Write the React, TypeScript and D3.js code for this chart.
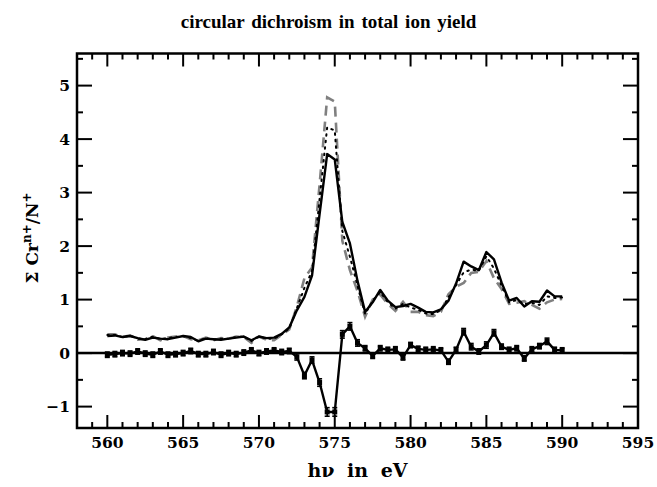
import React from "react";
import * as d3 from "d3";

const energy = [
  560, 560.5, 561, 561.5, 562, 562.5, 563, 563.5, 564, 564.5, 565, 565.5,
  566, 566.5, 567, 567.5, 568, 568.5, 569, 569.5, 570, 570.5, 571, 571.5,
  572, 572.5, 573, 573.5, 574, 574.5, 575, 575.5, 576, 576.5, 577, 577.5,
  578, 578.5, 579, 579.5, 580, 580.5, 581, 581.5, 582, 582.5, 583, 583.5,
  584, 584.5, 585, 585.5, 586, 586.5, 587, 587.5, 588, 588.5, 589, 589.5, 590,
];

const yieldSolid = [
  0.32, 0.33, 0.3, 0.32, 0.28, 0.25, 0.29, 0.27, 0.26, 0.29, 0.32, 0.3,
  0.22, 0.27, 0.26, 0.25, 0.27, 0.29, 0.31, 0.24, 0.31, 0.28, 0.29, 0.36,
  0.48, 0.8, 1.05, 1.45, 2.6, 3.72, 3.62, 2.45, 2.05, 1.35, 0.77, 0.95,
  1.18, 0.98, 0.86, 0.88, 0.92, 0.85, 0.77, 0.76, 0.82, 0.98, 1.3, 1.71,
  1.62, 1.55, 1.89, 1.75, 1.32, 0.98, 1.03, 0.87, 0.97, 0.96, 1.17, 1.06, 1.06,
];

const yieldDashed = [
  0.35, 0.35, 0.3, 0.33, 0.25, 0.26, 0.32, 0.24, 0.29, 0.31, 0.32, 0.26,
  0.24, 0.29, 0.24, 0.28, 0.27, 0.31, 0.3, 0.19, 0.31, 0.25, 0.24, 0.34,
  0.44, 0.87, 1.4, 1.6, 3.15, 4.78, 4.7, 2.1, 1.55, 1.16, 0.68, 1.0,
  1.09, 0.92, 0.79, 0.96, 0.77, 0.77, 0.71, 0.69, 0.77, 1.1, 1.24, 1.31,
  1.5, 1.52, 1.72, 1.4, 1.2, 0.92, 0.94, 0.97, 0.9, 0.83, 0.95, 1.0, 1.01,
];

const yieldDotted = [
  0.34, 0.34, 0.3, 0.33, 0.27, 0.26, 0.31, 0.26, 0.28, 0.3, 0.32, 0.28,
  0.23, 0.28, 0.25, 0.27, 0.27, 0.3, 0.31, 0.22, 0.31, 0.27, 0.27, 0.35,
  0.46, 0.84, 1.22, 1.53, 2.88, 4.22, 4.16, 2.28, 1.8, 1.26, 0.73, 0.98,
  1.14, 0.95, 0.83, 0.92, 0.85, 0.81, 0.74, 0.73, 0.8, 1.04, 1.27, 1.51,
  1.56, 1.54, 1.81, 1.58, 1.26, 0.95, 0.99, 0.92, 0.94, 0.9, 1.06, 1.03, 1.04,
];

const dichroism = [
  -0.03, -0.02, 0.0, -0.01, 0.03, -0.01, -0.03, 0.03, -0.03, -0.02, 0.0, 0.04,
  -0.02, -0.02, 0.02, -0.03, 0.0, -0.02, 0.01, 0.05, 0.0, 0.03, 0.05, 0.02,
  0.04, -0.07, -0.42, -0.13, -0.55, -1.1, -1.1, 0.35, 0.5, 0.19, 0.09, -0.05,
  0.09, 0.06, 0.07, -0.08, 0.15, 0.08, 0.06, 0.07, 0.05, -0.16, 0.06, 0.4,
  0.12, 0.03, 0.15, 0.38, 0.12, 0.06, 0.09, -0.1, 0.07, 0.13, 0.22, 0.06, 0.05,
];

const dichroismErr = [
  0.05, 0.05, 0.05, 0.05, 0.05, 0.05, 0.05, 0.05, 0.05, 0.05, 0.05, 0.05,
  0.05, 0.05, 0.05, 0.05, 0.05, 0.05, 0.05, 0.05, 0.05, 0.05, 0.05, 0.05,
  0.05, 0.06, 0.06, 0.06, 0.07, 0.08, 0.08, 0.07, 0.07, 0.06, 0.05, 0.05,
  0.05, 0.05, 0.05, 0.05, 0.05, 0.05, 0.05, 0.05, 0.05, 0.05, 0.05, 0.06,
  0.06, 0.05, 0.06, 0.06, 0.05, 0.05, 0.05, 0.05, 0.05, 0.05, 0.06, 0.05, 0.05,
];

const xMajorTicks = [560, 565, 570, 575, 580, 585, 590, 595];
const yMajorTicks = [-1, 0, 1, 2, 3, 4, 5];
const xDomain = [558, 595];
const yDomain = [-1.4, 5.6];

const W = 657;
const H = 487;
const FONT = "'DejaVu Serif', serif";
const TITLE_FONT = "'Liberation Serif', 'DejaVu Serif', serif";

export default function App() {
  const x = d3.scaleLinear().domain(xDomain).range([77, 638]);
  const y = d3.scaleLinear().domain(yDomain).range([428, 53.5]);

  const line = d3
    .line<[number, number]>()
    .x((d) => x(d[0]))
    .y((d) => y(d[1]));

  const pts = (vals: number[]) => energy.map((e, i) => [e, vals[i]] as [number, number]);

  const xMinor = d3.range(xDomain[0], xDomain[1] + 0.001, 1);
  const yMinor = d3.range(-1, 5.6, 0.5);
  const majLen = 13;
  const minLen = 6;

  const [x0, x1] = x.range();
  const [y0, y1] = y.range();

  return (
    <svg
      width={W}
      height={H}
      style={{ position: "absolute", left: 0, top: 0, background: "#fff" }}
    >
      <rect x={0} y={0} width={W} height={H} fill="#fff" />
      <text
        x={328.5}
        y={28}
        textAnchor="middle"
        fontFamily={TITLE_FONT}
        fontWeight="bold"
        fontSize={19}
        wordSpacing={2}
      >
        circular dichroism in total ion yield
      </text>

      <g stroke="#000" strokeWidth={2}>
        {xMinor.map((v) => {
          const major = xMajorTicks.includes(Math.round(v)) && Math.abs(v - Math.round(v)) < 1e-6;
          const len = major ? majLen : minLen;
          return (
            <g key={"xt" + v}>
              <line x1={x(v)} x2={x(v)} y1={y0} y2={y0 - len} />
              <line x1={x(v)} x2={x(v)} y1={y1} y2={y1 + len} />
            </g>
          );
        })}
        {yMinor.map((v) => {
          const major = Math.abs(v - Math.round(v)) < 1e-6;
          const len = major ? majLen + 2 : minLen;
          return (
            <g key={"yt" + v}>
              <line x1={x0} x2={x0 + len} y1={y(v)} y2={y(v)} />
              <line x1={x1} x2={x1 - len} y1={y(v)} y2={y(v)} />
            </g>
          );
        })}
      </g>

      <line x1={x0} x2={x1} y1={y(0)} y2={y(0)} stroke="#000" strokeWidth={2.5} />

      <path d={line(pts(yieldDashed)) || ""} fill="none" stroke="#808080" strokeWidth={2.6} strokeDasharray="10,6" />
      <path d={line(pts(yieldDotted)) || ""} fill="none" stroke="#000" strokeWidth={2} strokeDasharray="1.5,5" strokeLinecap="round" />
      <path d={line(pts(yieldSolid)) || ""} fill="none" stroke="#000" strokeWidth={2.4} strokeLinejoin="round" />

      <path d={line(pts(dichroism)) || ""} fill="none" stroke="#000" strokeWidth={2.4} strokeLinejoin="round" />
      <g stroke="#000" strokeWidth={1.6}>
        {energy.map((e, i) => {
          const cx = x(e);
          const hi = y(dichroism[i] + dichroismErr[i]);
          const lo = y(dichroism[i] - dichroismErr[i]);
          return (
            <g key={"eb" + i}>
              <line x1={cx} x2={cx} y1={hi} y2={lo} />
              <line x1={cx - 2.5} x2={cx + 2.5} y1={hi} y2={hi} />
              <line x1={cx - 2.5} x2={cx + 2.5} y1={lo} y2={lo} />
            </g>
          );
        })}
      </g>
      <g fill="#000">
        {energy.map((e, i) => (
          <rect key={"m" + i} x={x(e) - 2.5} y={y(dichroism[i]) - 2.5} width={5} height={5} />
        ))}
      </g>

      <rect x={x0} y={y1} width={x1 - x0} height={y0 - y1} fill="none" stroke="#000" strokeWidth={2.5} />

      <g fontFamily={FONT} fontWeight="bold" fontSize={15.5} textAnchor="middle">
        {xMajorTicks.map((v) => (
          <text key={"xl" + v} x={x(v)} y={y0 + 20}>
            {v}
          </text>
        ))}
      </g>
      <g fontFamily={FONT} fontWeight="bold" fontSize={15.5} textAnchor="end">
        {yMajorTicks.map((v) => (
          <text key={"yl" + v} x={x0 - 7} y={y(v) + 5.5}>
            {v < 0 ? "\u2212" + Math.abs(v) : v}
          </text>
        ))}
      </g>

      <text
        x={(x0 + x1) / 2}
        y={477}
        textAnchor="middle"
        fontFamily={FONT}
        fontWeight="bold"
        fontSize={19}
        wordSpacing={6}
      >
        h{"\u03bd"} in eV
      </text>

      <text
        transform={`translate(38, ${238}) rotate(-90)`}
        textAnchor="middle"
        fontFamily={FONT}
        fontWeight="bold"
        fontSize={17}
      >
        <tspan>{"\u03a3  Cr"}</tspan>
        <tspan dy={-7} fontSize={12}>n+</tspan>
        <tspan dy={7}>/N</tspan>
        <tspan dy={-7} fontSize={12}>+</tspan>
      </text>
    </svg>
  );
}
